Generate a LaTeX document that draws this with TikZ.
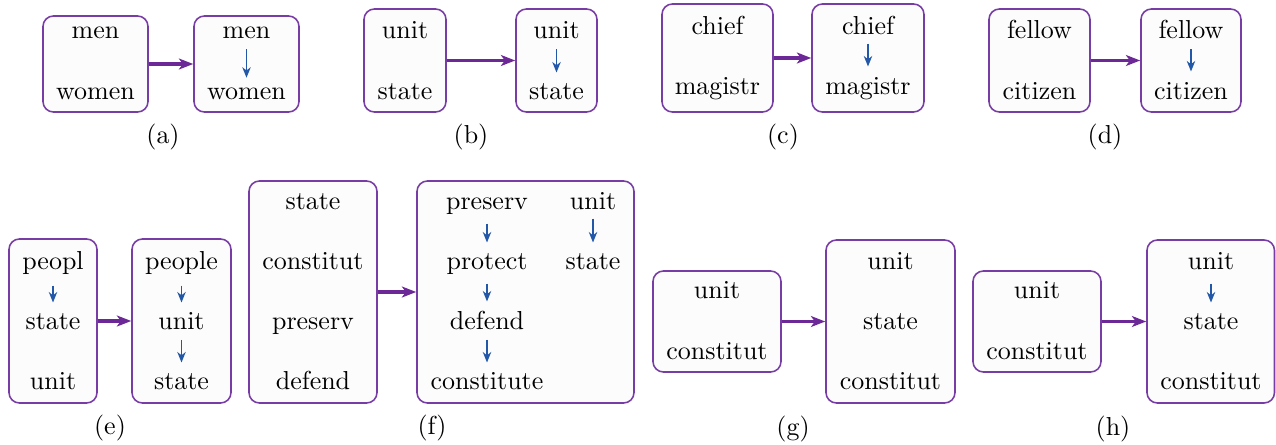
\documentclass[tikz,border=0pt]{standalone}
\usetikzlibrary{arrows.meta}
\definecolor{boxline}{RGB}{120,60,165}
\definecolor{bigarrow}{RGB}{108,40,150}
\definecolor{smallarrow}{RGB}{35,88,168}
\definecolor{boxfill}{RGB}{252,252,252}
\newcommand\mybx[5]{\node[box, minimum width={(#4-#2)*0.385pt}, minimum height={(#5-#3)*0.385pt}] (#1) at ({(#2+#4)/2},{(#3+#5)/2}) {};}
\newcommand\mywrd[4]{\node[word] (#1) at (#2,#3) {#4};}
\begin{document}
\begin{tikzpicture}[x=0.385pt,y=-0.385pt,
  box/.style={draw=boxline, fill=boxfill, line width=0.6pt, rounded corners=4pt, inner sep=0pt},
  word/.style={inner sep=0pt, text height=7pt, text depth=2pt, anchor=base},
  move/.style={draw=bigarrow, line width=1.2pt, -{Stealth[length=5.5pt,width=4.2pt,inset=1.5pt]}},
  link/.style={draw=smallarrow, line width=0.65pt, -{Stealth[length=4pt,width=3.2pt,inset=1.2pt]}, shorten <=2pt, shorten >=3pt},
  sublabel/.style={inner sep=0pt, anchor=center}]
\useasboundingbox (0,0) rectangle (1276,444);
% (a)
\mybx{a1}{43}{16}{148}{112}
\mybx{a2}{194}{16}{299}{112}
\mywrd{a1m}{95.5}{38.5}{men}
\mywrd{a1w}{95.5}{99}{women}
\mywrd{a2m}{246.5}{38.5}{men}
\mywrd{a2w}{246.5}{99}{women}
\draw[move] (a1.east) -- (a2.west);
\draw[link, shorten >=1pt] (a2m.south) -- (a2w.north);
\node[sublabel] (la) at (163,137) {(a)};
% (b)
\mybx{b1}{364}{9}{446}{112}
\mybx{b2}{516}{9}{597}{112}
\mywrd{b1u}{405}{38.5}{unit}
\mywrd{b1s}{405}{99}{state}
\mywrd{b2u}{556.5}{38.5}{unit}
\mywrd{b2s}{556.5}{99}{state}
\draw[move] (b1.east) -- (b2.west);
\draw[link] (b2u.south) -- (b2s.north);
\node[sublabel] (lb) at (471,137) {(b)};
% (c)
\mybx{c1}{662}{4}{773}{112}
\mybx{c2}{812}{4}{924}{112}
\mywrd{c1c}{717.5}{34}{chief}
\mywrd{c1m}{717.5}{94}{magistr}
\mywrd{c2c}{868}{34}{chief}
\mywrd{c2m}{868}{94}{magistr}
\draw[move] (c1.east) -- (c2.west);
\draw[link, shorten <=1.5pt, shorten >=3.4pt] (c2c.south) -- (c2m.north);
\node[sublabel] (lc) at (783,137) {(c)};
% (d)
\mybx{d1}{989}{9}{1090}{112}
\mybx{d2}{1141}{9}{1241}{112}
\mywrd{d1f}{1039.5}{38.5}{fellow}
\mywrd{d1c}{1039.5}{99}{citizen}
\mywrd{d2f}{1191}{38.5}{fellow}
\mywrd{d2c}{1191}{99}{citizen}
\draw[move] (d1.east) -- (d2.west);
\draw[link, shorten >=3.4pt] (d2f.south) -- (d2c.north);
\node[sublabel] (ld) at (1105,137) {(d)};
% (e)
\mybx{e1}{9}{239}{97}{403}
\mybx{e2}{132}{239}{231}{403}
\mywrd{e1p}{53}{269}{peopl}
\mywrd{e1s}{53}{329}{state}
\mywrd{e1u}{53}{389}{unit}
\mywrd{e2p}{181.5}{269}{people}
\mywrd{e2u}{181.5}{329}{unit}
\mywrd{e2s}{181.5}{389}{state}
\draw[move] (e1.east) -- (e2.west);
\draw[link, shorten <=4.2pt] (e1p.south) -- (e1s.north);
\draw[link, shorten <=4.2pt] (e2p.south) -- (e2u.north);
\draw[link] (e2u.south) -- (e2s.north);
\node[sublabel] (le) at (110,428) {(e)};
% (f)
\mybx{f1}{249}{181}{377}{403}
\mybx{f2}{417}{181}{634}{403}
\mywrd{f1s}{313}{209}{state}
\mywrd{f1c}{313}{269}{constitut}
\mywrd{f1p}{313}{329}{preserv}
\mywrd{f1d}{313}{389}{defend}
\mywrd{f2p}{487}{209}{preserv}
\mywrd{f2r}{487}{269}{protect}
\mywrd{f2d}{487}{329}{defend}
\mywrd{f2c}{487}{389}{constitute}
\mywrd{f2u}{593}{209}{unit}
\mywrd{f2s}{593}{269}{state}
\draw[move] (f1.east) -- (f2.west);
\draw[link, shorten <=3.4pt] (f2p.south) -- (f2r.north);
\draw[link, shorten <=3.4pt, shorten >=3.4pt] (f2r.south) -- (f2d.north);
\draw[link] (f2d.south) -- (f2c.north);
\draw[link, shorten <=1.5pt] (f2u.south) -- (f2s.north);
\node[sublabel] (lf) at (432,428) {(f)};
% (g)
\mybx{g1}{653}{271}{781}{372}
\mybx{g2}{826}{240}{955}{403}
\mywrd{g1u}{717}{298.5}{unit}
\mywrd{g1c}{717}{359.5}{constitut}
\mywrd{g2u}{890.5}{269}{unit}
\mywrd{g2s}{890.5}{329}{state}
\mywrd{g2c}{890.5}{389}{constitut}
\draw[move] (g1.east) -- (g1.east -| g2.west);
\node[sublabel] (lg) at (793,429) {(g)};
% (h)
\mybx{h1}{973}{271}{1101}{372}
\mybx{h2}{1147}{240}{1274.5}{403}
\mywrd{h1u}{1037}{298.5}{unit}
\mywrd{h1c}{1037}{359.5}{constitut}
\mywrd{h2u}{1211}{269}{unit}
\mywrd{h2s}{1211}{329}{state}
\mywrd{h2c}{1211}{389}{constitut}
\draw[move] (h1.east) -- (h1.east -| h2.west);
\draw[link, shorten <=3.4pt] (h2u.south) -- (h2s.north);
\node[sublabel] (lh) at (1113,429) {(h)};
\end{tikzpicture}
\end{document}
